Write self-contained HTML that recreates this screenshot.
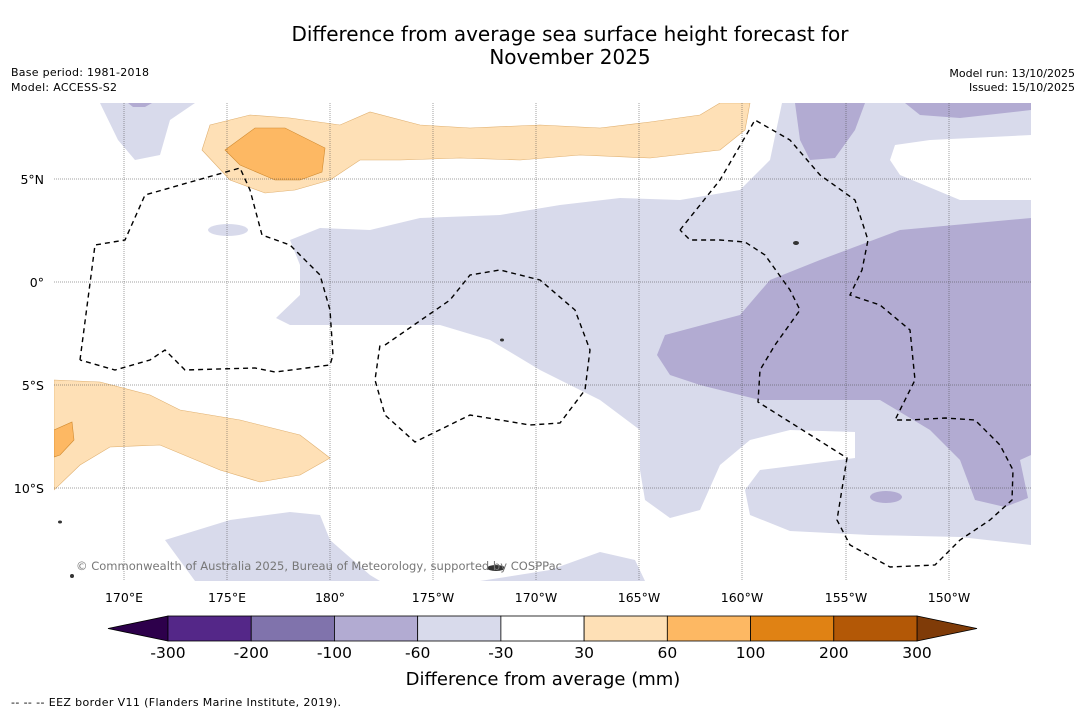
<!DOCTYPE html>
<html><head><meta charset="utf-8"><style>
body{margin:0;background:#fff;width:1085px;height:713px;overflow:hidden;font-family:"DejaVu Sans",sans-serif}
svg{position:absolute;left:0;top:0}
</style></head><body>
<svg width="1085" height="713" font-family="DejaVu Sans, sans-serif">
<text x="570" y="41" font-size="20" text-anchor="middle">Difference from average sea surface height forecast for</text>
<text x="570" y="64" font-size="20" text-anchor="middle">November 2025</text>
<text x="11" y="76" font-size="11" textLength="138">Base period: 1981-2018</text>
<text x="11" y="91" font-size="11" textLength="106">Model: ACCESS-S2</text>
<text x="1075" y="77" font-size="11" text-anchor="end">Model run: 13/10/2025</text>
<text x="1075" y="91" font-size="11" text-anchor="end">Issued: 15/10/2025</text>
<defs><clipPath id="mc"><rect x="54" y="103" width="977" height="478"/></clipPath></defs>
<g clip-path="url(#mc)">
<rect x="54" y="103" width="977" height="478" fill="#fff"/>
<g fill="#d8daeb">
<polygon points="290,240 320,228 370,230 420,218 500,215 560,205 620,198 680,200 740,190 770,160 782,103 1031,103 1031,545 960,537 870,535 790,531 750,515 745,490 760,470 800,465 855,458 855,432 790,430 750,440 720,465 700,510 670,518 645,500 640,470 640,430 600,400 540,370 490,340 440,325 370,325 290,325 276,318 300,295 300,265"/>
<polygon points="100,103 195,103 170,120 160,155 135,160 118,140"/>
<polygon points="165,540 230,520 290,512 320,515 330,540 370,575 380,581 195,581"/>
<polygon points="480,581 550,570 600,552 635,560 645,581"/>
<ellipse cx="228" cy="230" rx="20" ry="6"/>
</g>
<g fill="#fff">
<polygon points="895,145 930,140 1031,135 1031,200 960,200 900,175 890,160"/>
</g>
<g fill="#b2abd2">
<polygon points="657,355 665,335 740,315 770,280 820,260 900,230 1031,218 1031,455 1020,460 1028,498 1005,507 975,500 960,460 930,430 880,400 760,400 700,385 670,375"/>
<polygon points="795,103 865,103 855,130 835,158 810,160 800,140"/>
<polygon points="905,103 1031,103 1031,110 960,118 920,115"/>
<ellipse cx="886" cy="497" rx="16" ry="6"/>
<polygon points="128,103 152,103 145,107 133,107"/>
</g>
<g fill="#fee0b6" stroke="#e0b070" stroke-width="0.6">
<polygon points="202,150 210,125 250,115 290,118 340,125 370,112 420,125 470,128 540,125 600,128 650,122 700,115 720,103 750,103 745,130 720,150 650,158 580,155 520,160 460,158 400,160 360,160 330,180 295,190 265,193 230,180"/>
<polygon points="54,380 100,382 150,395 180,410 240,420 300,435 330,458 300,475 260,482 220,470 160,445 110,447 80,465 54,490"/>
</g>
<g fill="#fdb863" stroke="#d08a30" stroke-width="0.6">
<polygon points="225,150 255,128 285,128 325,148 322,172 300,180 275,180 240,165"/>
<polygon points="54,430 72,422 74,440 60,455 54,457"/>
</g>
<g stroke="#444" stroke-width="0.5" stroke-dasharray="1,1">
<line x1="124" y1="103" x2="124" y2="581"/><line x1="227" y1="103" x2="227" y2="581"/><line x1="330" y1="103" x2="330" y2="581"/><line x1="433" y1="103" x2="433" y2="581"/><line x1="536" y1="103" x2="536" y2="581"/><line x1="639" y1="103" x2="639" y2="581"/><line x1="742" y1="103" x2="742" y2="581"/><line x1="846" y1="103" x2="846" y2="581"/><line x1="949" y1="103" x2="949" y2="581"/>
<line x1="54" y1="179" x2="1031" y2="179"/><line x1="54" y1="282" x2="1031" y2="282"/><line x1="54" y1="385" x2="1031" y2="385"/><line x1="54" y1="488" x2="1031" y2="488"/>
</g>
<g fill="none" stroke="#000" stroke-width="1.4" stroke-dasharray="5,4">
<polyline points="80,360 95,245 125,240 145,195 180,185 240,168 250,190 262,235 290,245 320,275 330,310 333,355 330,365 275,372 255,368 185,370 165,350 150,360 115,370 80,360"/>
<polyline points="385,345 450,300 470,275 500,270 540,280 575,310 590,350 585,390 560,423 530,425 470,415 415,442 385,415 375,380 380,345"/>
<polyline points="680,230 720,180 755,120 790,140 820,175 855,200 868,240 862,270 850,295 880,305 910,330 915,380 900,410 895,420 910,420 945,418 975,420 1000,445 1013,470 1012,500 990,520 960,540 935,565 890,567 850,545 837,520 847,458 758,402 760,370 775,345 800,310 790,290 765,255 745,242 720,240 690,240 680,230"/>
</g>
<g fill="#333">
<ellipse cx="496" cy="568" rx="9" ry="3"/><ellipse cx="796" cy="243" rx="3" ry="2"/><ellipse cx="502" cy="340" rx="2" ry="1.5"/><ellipse cx="60" cy="522" rx="2" ry="1.5"/><ellipse cx="72" cy="576" rx="2" ry="2"/>
</g>
<text x="76" y="570" font-size="11.5" fill="#777" textLength="486">© Commonwealth of Australia 2025, Bureau of Meteorology, supported by COSPPac</text>
</g>
<g font-size="12.5" text-anchor="middle">
<text x="124" y="602">170°E</text><text x="227" y="602">175°E</text><text x="330" y="602">180°</text><text x="433" y="602">175°W</text><text x="536" y="602">170°W</text><text x="639" y="602">165°W</text><text x="742" y="602">160°W</text><text x="846" y="602">155°W</text><text x="949" y="602">150°W</text>
</g>
<g font-size="12.5" text-anchor="end">
<text x="44" y="184">5°N</text><text x="44" y="287">0°</text><text x="44" y="390">5°S</text><text x="44" y="493">10°S</text>
</g>
<g id="cbar"></g>
<text x="543" y="685" font-size="18" text-anchor="middle">Difference from average (mm)</text>
<text x="11" y="706" font-size="11" textLength="330">--  --  -- EEZ border V11 (Flanders Marine Institute, 2019).</text>
</svg>
<script>
const levels=["-300","-200","-100","-60","-30","30","60","100","200","300"];
const binColors=["#542788","#8073ac","#b2abd2","#d8daeb","#ffffff","#fee0b6","#fdb863","#e08214","#b35806"];
const extendColors=["#2d004b","#7f3b08"];
const ns="http://www.w3.org/2000/svg";
const g=document.getElementById('cbar');
const x0=168,x1=917,y0=616,h=25,w=(x1-x0)/binColors.length;
function mk(t,a){const e=document.createElementNS(ns,t);for(const k in a)e.setAttribute(k,a[k]);g.appendChild(e);return e;}
const lt=mk('polygon',{points:`108,${y0+h/2} ${x0},${y0} ${x0},${y0+h}`,fill:extendColors[0],stroke:'#000','stroke-width':0.8});


const rt=mk('polygon',{points:`977,${y0+h/2} ${x1},${y0} ${x1},${y0+h}`,fill:extendColors[1],stroke:'#000','stroke-width':0.8});


binColors.forEach((c,i)=>{
 const r=mk('rect',{x:x0+i*w,y:y0,width:w,height:h,fill:c,stroke:'#000','stroke-width':0.8});
 
 
});
levels.forEach((l,i)=>{
 const t=mk('text',{x:x0+i*w,y:658,'font-size':15.5,'text-anchor':'middle'});
 t.textContent=l;
 
 
});
</script>
</body></html>
